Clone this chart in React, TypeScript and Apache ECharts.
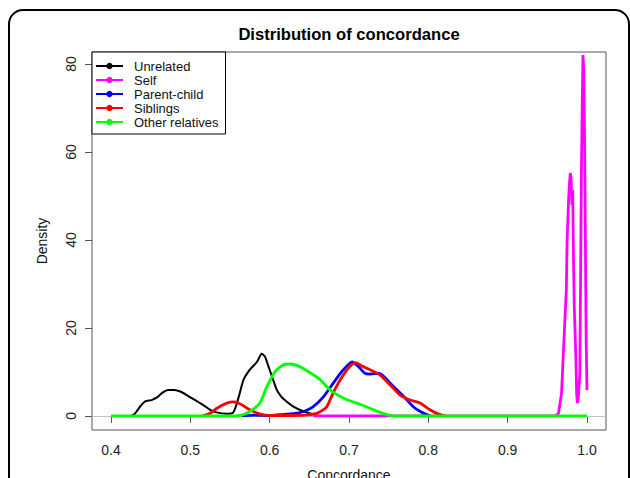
import React, { useEffect, useRef } from "react";
import * as echarts from "echarts";

const titleText = "Distribution of concordance";
const xTicks = [0.4, 0.5, 0.6, 0.7, 0.8, 0.9, 1.0];
const yTicks = [0, 20, 40, 60, 80];
const seriesNames = ["Unrelated", "Self", "Parent-child", "Siblings", "Other relatives"];
const seriesColors = ["#000000", "#ff00ff", "#0000ff", "#ff0000", "#00ff00"];

const unrelated = [
  [0.425, 0], [0.43, 0.5], [0.437, 2.2], [0.443, 3.3], [0.451, 3.6], [0.458, 4.2], [0.465, 5.3],
  [0.472, 5.9], [0.48, 5.9], [0.488, 5.5], [0.495, 4.8], [0.505, 3.7], [0.516, 2.5], [0.525, 1.4],
  [0.533, 0.8], [0.546, 0.5], [0.554, 0.8], [0.558, 2.5], [0.562, 5.0], [0.567, 8.2], [0.575, 10.5],
  [0.584, 12.3], [0.59, 14.1], [0.594, 13.5], [0.598, 11.5], [0.603, 8.9], [0.609, 5.9], [0.614, 4.5],
  [0.619, 3.6], [0.63, 2.1], [0.643, 1.0], [0.655, 0.4], [0.662, 0],
];

const self = [
  [0.655, 0], [0.96, 0], [0.964, 0.5], [0.968, 5.2], [0.971, 17.3], [0.974, 28.6], [0.975, 40],
  [0.977, 49.8], [0.978, 53], [0.979, 55.2], [0.98, 54], [0.981, 48], [0.982, 51.4], [0.983, 36.2],
  [0.984, 24.8], [0.986, 13.5], [0.987, 5], [0.988, 2.9], [0.989, 4], [0.991, 9.7], [0.992, 32.4],
  [0.993, 55.2], [0.994, 70.3], [0.995, 82], [0.996, 78], [0.997, 62.7], [0.998, 40], [0.999, 17.3],
  [1.0, 5.9],
];

const parentChild = [
  [0.565, 0], [0.58, 0.2], [0.6, 0.1], [0.613, 0.3], [0.63, 0.5], [0.643, 1.0], [0.655, 2.1],
  [0.668, 4.4], [0.68, 7.4], [0.691, 10.1], [0.704, 12.3], [0.712, 11.2], [0.72, 9.7], [0.727, 9.5],
  [0.737, 9.7], [0.743, 9.1], [0.756, 6.7], [0.769, 4.4], [0.781, 2.1], [0.79, 1.0], [0.798, 0.3],
  [0.802, 0],
];

const siblings = [
  [0.515, 0], [0.525, 0.6], [0.533, 1.7], [0.546, 2.9], [0.554, 3.2], [0.56, 3.0], [0.565, 2.5],
  [0.575, 1.4], [0.588, 0.4], [0.6, 0.1], [0.62, 0.1], [0.645, 0.2], [0.659, 0.6], [0.666, 1.2],
  [0.672, 2.1], [0.68, 5.2], [0.689, 8.2], [0.699, 10.8], [0.708, 12.1], [0.718, 11.2], [0.731, 10.1],
  [0.739, 9.3], [0.752, 7.0], [0.764, 4.8], [0.777, 3.6], [0.79, 2.9], [0.802, 1.4], [0.813, 0.4],
  [0.822, 0],
];

const otherRelatives = [
  [0.4, 0], [0.55, 0], [0.565, 0.2], [0.575, 1.0], [0.588, 3.0], [0.596, 6.5], [0.607, 10.1],
  [0.617, 11.6], [0.626, 11.8], [0.638, 11.2], [0.651, 9.8], [0.664, 8.2], [0.676, 5.9], [0.693, 4.0],
  [0.71, 2.9], [0.727, 1.7], [0.739, 0.8], [0.75, 0.2], [0.76, 0], [1.0, 0],
];

const seriesData = [unrelated, self, parentChild, siblings, otherRelatives];
const seriesWidths = [2, 2.8, 2.8, 2.8, 2.8];

const FONT = "'Liberation Sans', Arial, sans-serif";

export default function App() {
  const ref = useRef<HTMLDivElement>(null);
  useEffect(() => {
    if (!ref.current) return;
    const chart = echarts.init(ref.current, undefined, { renderer: "svg" });
    const series: any[] = seriesNames.map((name, i) => ({
      name,
      type: "line",
      data: seriesData[i],
      symbol: "circle",
      showSymbol: false,
      smooth: i === 1 ? false : 0.2,
      lineStyle: { color: seriesColors[i], width: seriesWidths[i] },
      itemStyle: { color: seriesColors[i] },
      z: 2 + i,
      ...(i === 0
        ? {
            markLine: {
              silent: true,
              symbol: ["none", "none"],
              label: { show: false },
              lineStyle: { color: "#c0c0c0", width: 1, type: "solid" },
              data: [{ yAxis: 0 }],
              z: 1,
            },
          }
        : {}),
    }));
    chart.setOption({
      animation: false,
      backgroundColor: "#ffffff",
      textStyle: { fontFamily: FONT },
      title: {
        text: titleText,
        left: 344,
        top: 21,
        textAlign: "center",
        textStyle: { fontSize: 16.6, fontWeight: "bold", color: "#000", fontFamily: FONT },
      },
      graphic: [
        {
          type: "rect",
          shape: { x: 9, y: 10, width: 620, height: 520, r: 14 },
          style: { fill: "none", stroke: "#000", lineWidth: 2 },
          silent: true,
          z: 100,
        },
      ],
      legend: {
        orient: "vertical",
        left: 92,
        top: 52,
        padding: [7, 7, 5, 3],
        itemGap: 0,
        itemWidth: 27,
        itemHeight: 8,
        borderColor: "#000",
        borderWidth: 1,
        backgroundColor: "#fff",
        textStyle: { fontSize: 13, color: "#111", lineHeight: 14, padding: [0, 0, 0, 6], fontFamily: FONT },
        data: seriesNames,
        z: 20,
      },
      grid: {
        left: 92,
        top: 52,
        right: 24,
        bottom: 48,
        show: true,
        borderColor: "#555",
        borderWidth: 1,
        backgroundColor: "transparent",
        outerBoundsMode: "none",
        containLabel: false,
      },
      xAxis: {
        type: "value",
        min: 0.376,
        max: 1.024,
        name: "Concordance",
        nameLocation: "middle",
        nameGap: 38,
        nameTextStyle: { fontSize: 14, color: "#111", fontFamily: FONT },
        axisLine: { show: false },
        splitLine: { show: false },
        axisTick: { show: true, length: 7, inside: false, lineStyle: { color: "#555" }, customValues: xTicks },
        axisLabel: {
          fontSize: 14,
          color: "#222",
          margin: 13,
          customValues: xTicks,
          formatter: (v: number) => v.toFixed(1),
        },
      },
      yAxis: {
        type: "value",
        min: -3.2,
        max: 82.7,
        name: "Density",
        nameLocation: "middle",
        nameGap: 43,
        nameRotate: 90,
        nameTextStyle: { fontSize: 14, color: "#111", fontFamily: FONT },
        axisLine: { show: false },
        splitLine: { show: false },
        axisTick: { show: true, length: 7, inside: false, lineStyle: { color: "#555" }, customValues: yTicks },
        axisLabel: {
          fontSize: 14,
          color: "#222",
          margin: 14,
          rotate: 90,
          customValues: yTicks,
        },
      },
      series,
    });
    return () => chart.dispose();
  }, []);
  return <div ref={ref} style={{ position: "fixed", left: 0, top: 0, width: 630, height: 478 }} />;
}
